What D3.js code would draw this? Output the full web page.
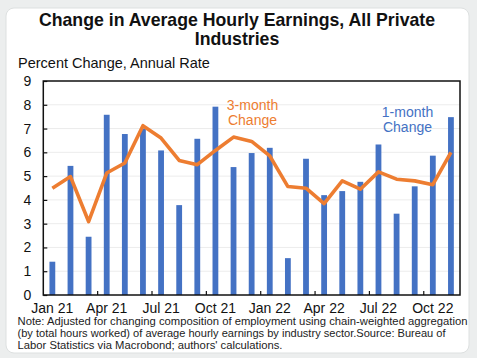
<!DOCTYPE html>
<html><head><meta charset="utf-8">
<script src="https://cdn.jsdelivr.net/npm/d3@7"></script>
<style>
html,body{margin:0;padding:0;background:#eceeee;}
svg{display:block;font-family:"Liberation Sans",Arial,sans-serif;}
</style></head>
<body>
<svg id="c" width="477" height="358"></svg>
<script>
const months = ["Jan 21","Feb 21","Mar 21","Apr 21","May 21","Jun 21","Jul 21","Aug 21","Sep 21","Oct 21","Nov 21","Dec 21",
                "Jan 22","Feb 22","Mar 22","Apr 22","May 22","Jun 22","Jul 22","Aug 22","Sep 22","Oct 22","Nov 22"];
const oneMonth = [1.4,5.43,2.45,7.58,6.77,7.0,6.08,3.78,6.57,7.92,5.38,5.97,6.19,1.55,5.73,4.2,4.37,4.76,6.33,3.42,4.57,5.86,7.48];
const threeMonth = [4.49,4.98,3.09,5.13,5.55,7.12,6.6,5.66,5.48,6.08,6.64,6.46,5.85,4.56,4.49,3.84,4.8,4.45,5.18,4.87,4.8,4.64,6.0];
const xTickLabels = ["Jan 21","Apr 21","Jul 21","Oct 21","Jan 22","Apr 22","Jul 22","Oct 22"];
const yTicks = [0,1,2,3,4,5,6,7,8,9];

const svg = d3.select("#c");
// card
svg.append("rect").attr("x",6).attr("y",8).attr("width",463).attr("height",345)
  .attr("rx",8).attr("fill","#fff").attr("stroke","#dde0e0");

const L=43.3,R=460,T=81,B=295;
const x = d3.scaleBand().domain(months).range([L,R]).paddingInner(0.68).paddingOuter(0.34);
const y = d3.scaleLinear().domain([0,9]).range([B,T]);
const blue="#4472C4", orange="#ED7D31";

// gridlines
svg.append("g").selectAll("line").data(yTicks.filter(d=>d>0&&d<9)).join("line")
  .attr("x1",L).attr("x2",R).attr("y1",d=>y(d)).attr("y2",d=>y(d))
  .attr("stroke","#ececec").attr("stroke-width",1);

// bars
svg.append("g").selectAll("rect").data(oneMonth).join("rect")
  .attr("x",(d,i)=>x(months[i])).attr("width",x.bandwidth())
  .attr("y",d=>y(d)).attr("height",d=>B-y(d)).attr("fill",blue);

// line
const line = d3.line().x((d,i)=>x(months[i])+x.bandwidth()/2).y(d=>y(d));
svg.append("path").datum(threeMonth).attr("d",line).attr("fill","none")
  .attr("stroke",orange).attr("stroke-width",3.6).attr("stroke-linejoin","round");

// frame
svg.append("rect").attr("x",L).attr("y",T).attr("width",R-L).attr("height",B-T)
  .attr("fill","none").attr("stroke","#111").attr("stroke-width",1.5);

// y axis
const yAxis = d3.axisLeft(y).tickValues(yTicks).tickSizeInner(-4).tickSizeOuter(0).tickPadding(12);
const ya = svg.append("g").attr("transform",`translate(${L},0)`).call(yAxis);
ya.select(".domain").remove();
ya.selectAll("line").attr("stroke","#111").attr("stroke-width",1.2);
ya.selectAll("text").attr("font-size",14).attr("fill","#111").attr("font-family","Liberation Sans, Arial, sans-serif");

// x axis
const step = x.step();
const xa = svg.append("g");
xa.selectAll("line").data(xTickLabels.slice(1)).join("line")
  .attr("x1",d=>x(d)+x.bandwidth()/2-step/2).attr("x2",d=>x(d)+x.bandwidth()/2-step/2)
  .attr("y1",B).attr("y2",B-4).attr("stroke","#111").attr("stroke-width",1.2);
xa.selectAll("text").data(xTickLabels).join("text")
  .attr("x",d=>x(d)+x.bandwidth()/2).attr("y",312.5).attr("text-anchor","middle")
  .attr("font-size",14).attr("fill","#111").text(d=>d);

// titles
svg.append("text").attr("x",237).attr("y",26).attr("text-anchor","middle")
  .attr("font-size",17.7).attr("font-weight","bold").attr("fill","#111")
  .text("Change in Average Hourly Earnings, All Private");
svg.append("text").attr("x",237).attr("y",45).attr("text-anchor","middle")
  .attr("font-size",17.7).attr("font-weight","bold").attr("fill","#111").text("Industries");
svg.append("text").attr("x",18).attr("y",68).attr("font-size",14.5).attr("fill","#111")
  .text("Percent Change, Annual Rate");

// annotations
const a3 = svg.append("text").attr("text-anchor","middle").attr("font-size",14).attr("fill",orange);
a3.append("tspan").attr("x",252.5).attr("y",110).text("3-month");
a3.append("tspan").attr("x",252.5).attr("y",124.5).text("Change");
const a1 = svg.append("text").attr("text-anchor","middle").attr("font-size",14).attr("fill",blue);
a1.append("tspan").attr("x",407.5).attr("y",117).text("1-month");
a1.append("tspan").attr("x",407.5).attr("y",131.5).text("Change");

// note
const note = ["Note: Adjusted for changing composition of employment using chain-weighted aggregation",
 "(by total hours worked) of average hourly earnings by industry sector.Source: Bureau of",
 "Labor Statistics via Macrobond;  authors' calculations."];
const noteW = [450, 428, 265];
svg.append("g").selectAll("text").data(note).join("text")
  .attr("x",17.5).attr("y",(d,i)=>325+i*12.2).attr("font-size",11.4).attr("fill","#222")
  .attr("textLength",(d,i)=>noteW[i]).attr("lengthAdjust","spacingAndGlyphs").text(d=>d);
</script>
</body></html>
